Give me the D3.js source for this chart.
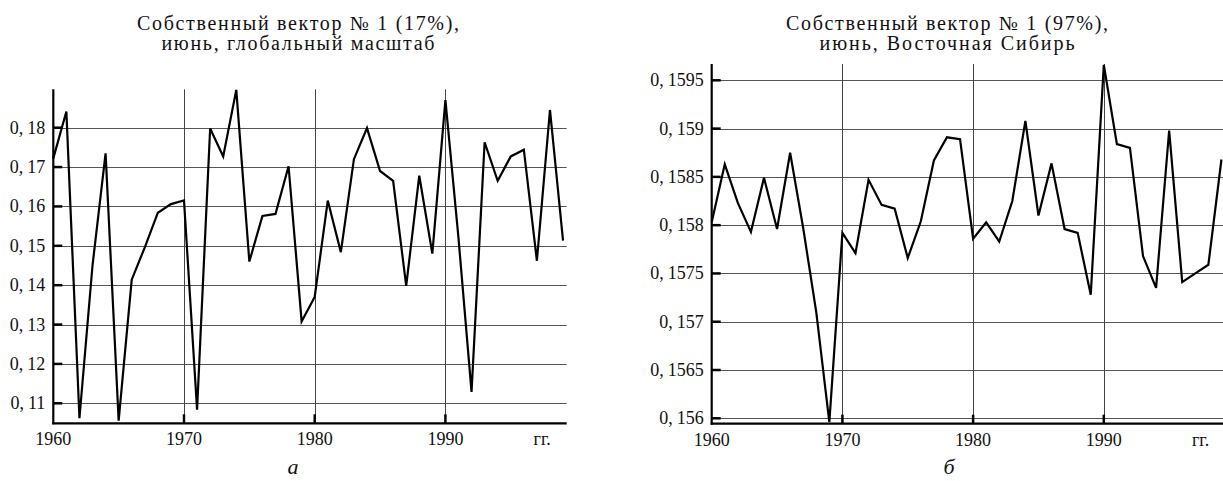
<!DOCTYPE html>
<html>
<head>
<meta charset="utf-8">
<script src="https://cdn.jsdelivr.net/npm/d3@7"></script>
<style>
  body { margin: 0; background: #fff; }
</style>
</head>
<body>
<svg id="chart" width="1223" height="481"></svg>
<script>
//* data
const years = d3.range(1960, 2000);

const globalValues = [
	0.1722, 0.1841, 0.1062, 0.145, 0.1735, 0.1056, 0.1414, 0.1496, 0.1584, 0.1606,
	0.1615, 0.1084, 0.1798, 0.1727, 0.1896, 0.146, 0.1576, 0.1581, 0.1702, 0.1308,
	0.137, 0.1615, 0.1484, 0.172, 0.1799, 0.169, 0.1665, 0.1398, 0.1678, 0.148,
	0.187, 0.152, 0.1129, 0.1763, 0.1665, 0.1727, 0.1744, 0.1462, 0.1845, 0.1513
];

const siberiaValues = [
	0.15803, 0.15863, 0.15823, 0.15793, 0.15849, 0.15796, 0.15875, 0.15797, 0.1571, 0.15596,
	0.15792, 0.15771, 0.15847, 0.15821, 0.15817, 0.15766, 0.15804, 0.15867, 0.15891, 0.15889,
	0.15786, 0.15803, 0.15783, 0.15825, 0.15908, 0.1581, 0.15864, 0.15796, 0.15792, 0.15728,
	0.15966, 0.15884, 0.1588, 0.15768, 0.15735, 0.15898, 0.15741, 0.1575, 0.15759, 0.15868
];

const yearTicks = [1960, 1970, 1980, 1990];
const yearGrid = [1970, 1980, 1990];

const globalTicks = [0.11, 0.12, 0.13, 0.14, 0.15, 0.16, 0.17, 0.18];
const globalTickLabels = ["0,11", "0,12", "0,13", "0,14", "0,15", "0,16", "0,17", "0,18"];

const siberiaTicks = [0.156, 0.1565, 0.157, 0.1575, 0.158, 0.1585, 0.159, 0.1595];
const siberiaTickLabels = ["0,156", "0,1565", "0,157", "0,1575", "0,158", "0,1585", "0,159", "0,1595"];

const svg = d3.select("#chart");
const serif = "Liberation Serif";

//* one panel
function drawPanel(opt) {
	const x = d3.scaleLinear().domain([1960, 1999.28]).range([opt.left, opt.left + 513.4]);
	const y = d3.scaleLinear().domain(opt.yDomain).range([opt.bottom, opt.top]);
	const right = x.range()[1];
	const g = svg.append("g");

	// horizontal grid
	g.selectAll("line.hgrid")
		.data(opt.ticks)
		.enter()
		.append("line")
		.attr("x1", opt.left)
		.attr("x2", right)
		.attr("y1", (d) => Math.round(y(d)) + 0.5)
		.attr("y2", (d) => Math.round(y(d)) + 0.5)
		.attr("stroke", "#555")
		.attr("stroke-width", 1);

	// vertical grid
	g.selectAll("line.vgrid")
		.data(yearGrid)
		.enter()
		.append("line")
		.attr("x1", (d) => Math.round(x(d)) + 0.5)
		.attr("x2", (d) => Math.round(x(d)) + 0.5)
		.attr("y1", opt.top)
		.attr("y2", opt.bottom)
		.attr("stroke", "#444")
		.attr("stroke-width", 1);

	// axes
	g.append("line")
		.attr("x1", opt.left).attr("x2", opt.left)
		.attr("y1", opt.top).attr("y2", opt.bottom + 1)
		.attr("stroke", "#000").attr("stroke-width", 2.2);
	g.append("line")
		.attr("x1", opt.left - 1).attr("x2", right)
		.attr("y1", opt.bottom).attr("y2", opt.bottom)
		.attr("stroke", "#000").attr("stroke-width", 2.2);

	// y ticks (inside)
	g.selectAll("line.ytick")
		.data(opt.ticks)
		.enter()
		.append("line")
		.attr("x1", opt.left)
		.attr("x2", opt.left + 9)
		.attr("y1", (d) => y(d))
		.attr("y2", (d) => y(d))
		.attr("stroke", "#000")
		.attr("stroke-width", 2.5);

	// x ticks (inside)
	g.selectAll("line.xtick")
		.data(yearGrid)
		.enter()
		.append("line")
		.attr("x1", (d) => x(d))
		.attr("x2", (d) => x(d))
		.attr("y1", opt.bottom)
		.attr("y2", opt.bottom - 9)
		.attr("stroke", "#000")
		.attr("stroke-width", 2.5);

	// y labels
	const yl = g.selectAll("text.ylab")
		.data(opt.ticks)
		.enter()
		.append("text")
		.attr("x", opt.left - 8)
		.attr("y", (d) => y(d) + 6)
		.attr("text-anchor", "end")
		.attr("font-family", serif)
		.attr("font-size", 18)
		.attr("fill", "#111");
	yl.append("tspan").text((_, i) => opt.labels[i].split(",")[0] + ",");
	yl.append("tspan").attr("dx", 4).text((_, i) => opt.labels[i].split(",")[1]);

	// x labels
	g.selectAll("text.xlab")
		.data(yearTicks)
		.enter()
		.append("text")
		.attr("x", (d) => x(d))
		.attr("y", opt.bottom + 22)
		.attr("text-anchor", "middle")
		.attr("font-family", serif)
		.attr("font-size", 18)
		.attr("fill", "#111")
		.text((d) => d);
	g.append("text")
		.attr("x", x(1997.4))
		.attr("y", opt.bottom + 22)
		.attr("text-anchor", "middle")
		.attr("font-family", serif)
		.attr("font-size", 18)
		.attr("fill", "#111")
		.text("гг.");

	// series
	const line = d3.line().x((_, i) => x(years[i])).y((d) => y(d));
	g.append("path")
		.datum(opt.values)
		.attr("d", line)
		.attr("fill", "none")
		.attr("stroke", "#000")
		.attr("stroke-width", 2.2)
		.attr("stroke-linejoin", "miter")
		.attr("stroke-miterlimit", 4);

	// titles
	g.append("text")
		.attr("x", opt.titleX)
		.attr("y", 30)
		.attr("text-anchor", "middle")
		.attr("font-family", serif)
		.attr("font-size", 20)
		.attr("fill", "#111")
		.attr("textLength", 322)
		.attr("lengthAdjust", "spacing")
		.text(opt.title[0]);
	g.append("text")
		.attr("x", opt.titleX)
		.attr("y", 50)
		.attr("text-anchor", "middle")
		.attr("font-family", serif)
		.attr("font-size", 20)
		.attr("fill", "#111")
		.attr("textLength", opt.title2Width)
		.attr("lengthAdjust", "spacing")
		.text(opt.title[1]);

	g.append("text")
		.attr("x", opt.letterX)
		.attr("y", 474)
		.attr("text-anchor", "middle")
		.attr("font-family", serif)
		.attr("font-size", 22)
		.attr("font-style", "italic")
		.attr("fill", "#111")
		.text(opt.letter);
}

drawPanel({
	left: 53.3, top: 89.3, bottom: 423.3,
	yDomain: [0.10492, 0.18975],
	ticks: globalTicks, labels: globalTickLabels,
	values: globalValues,
	title: ["Собственный вектор № 1 (17%),", "июнь, глобальный масштаб"],
	titleX: 298, title2Width: 273,
	letter: "а", letterX: 293
});

drawPanel({
	left: 711.7, top: 64, bottom: 423.7,
	yDomain: [0.155944, 0.159669],
	ticks: siberiaTicks, labels: siberiaTickLabels,
	values: siberiaValues,
	title: ["Собственный вектор № 1 (97%),", "июнь, Восточная Сибирь"],
	titleX: 947, title2Width: 255,
	letter: "б", letterX: 949
});
</script>
</body>
</html>
